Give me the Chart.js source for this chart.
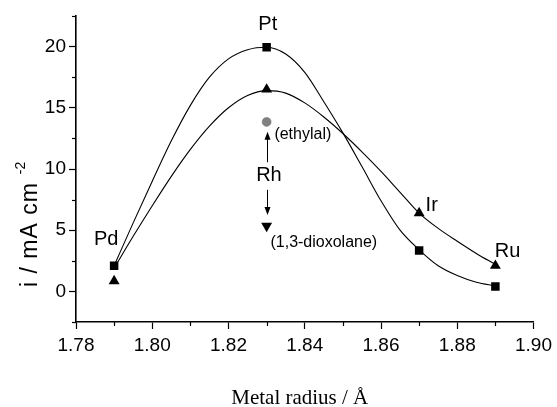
<!DOCTYPE html>
<html>
<head>
<meta charset="utf-8">
<script src="https://cdn.jsdelivr.net/npm/chart.js@4/dist/chart.umd.min.js"></script>
<style>
  html, body { margin: 0; padding: 0; background: #fff; }
  canvas { display: block; }
</style>
</head>
<body>
<canvas id="radiusChart" width="557" height="407"></canvas>
<script>
// metal radius (Å) for each metal
const metals = ['Pd', 'Pt', 'Ir', 'Ru'];
const radius = [1.79, 1.83, 1.87, 1.89];
// current density, mA cm-2
const squareCurrent = [2.1, 19.95, 3.35, 0.4];
const triangleCurrent = [0.85, 16.5, 6.4, 2.1];
// Rh at 1.83 Å, two different solvents
const rhRadius = 1.83;
const rhEthylal = 13.85;
const rhDioxolane = 5.35;

// fitted curves, read along the radius axis
const fitRadius = [1.790, 1.795, 1.800, 1.805, 1.810, 1.815, 1.820, 1.825, 1.830, 1.835, 1.840,
                   1.845, 1.850, 1.855, 1.860, 1.865, 1.870, 1.875, 1.880, 1.885, 1.890];
const squareFit = [2.1, 5.6, 9.0, 12.3, 15.2, 17.5, 19.0, 19.75, 19.95, 19.4, 17.9,
                   15.5, 12.95, 10.2, 7.4, 5.0, 3.4, 2.1, 1.3, 0.75, 0.45];
const triangleFit = [1.9, 4.5, 7.0, 9.4, 11.6, 13.5, 15.0, 16.0, 16.4, 16.2, 15.4,
                     14.25, 12.9, 11.4, 9.8, 8.1, 6.4, 5.15, 4.1, 3.1, 2.2];

const pts = (xs, ys) => xs.map((x, i) => ({ x: x, y: ys[i] }));

const SANS = '"Liberation Sans", Arial, sans-serif';
const SERIF = '"Liberation Serif", "Times New Roman", serif';

// text labels placed in data coordinates
const notes = [
  { text: 'Pt', x: 1.8303, y: 21.8, size: 20 },
  { text: 'Pd', x: 1.7879, y: 4.25, size: 20 },
  { text: 'Rh', x: 1.8306, y: 9.45, size: 20 },
  { text: 'Ir', x: 1.8733, y: 7.05, size: 20 },
  { text: 'Ru', x: 1.8932, y: 3.3, size: 20 },
  { text: '(ethylal)', x: 1.8395, y: 12.8, size: 16 },
  { text: '(1,3-dioxolane)', x: 1.845, y: 3.95, size: 16 }
];
const arrows = [
  { x: 1.83, from: 10.55, to: 13.05 },
  { x: 1.83, from: 8.3, to: 6.25 }
];

const isMajorX = v => Math.round(v * 100) % 2 === 0;
const isMajorY = v => Math.abs(v % 5) < 1e-6;

// minor ticks are drawn half length, majors come from the grid
const minorTicks = {
  id: 'minorTicks',
  afterDraw(chart) {
    const c = chart.ctx;
    const xs = chart.scales.x, ys = chart.scales.y;
    c.save();
    c.strokeStyle = '#000';
    c.lineWidth = 1.2;
    xs.ticks.forEach(t => {
      if (isMajorX(t.value)) return;
      const px = Math.round(xs.getPixelForValue(t.value)) + 0.5;
      c.beginPath();
      c.moveTo(px, ys.bottom);
      c.lineTo(px, ys.bottom + 4);
      c.stroke();
    });
    ys.ticks.forEach(t => {
      if (isMajorY(t.value)) return;
      const py = Math.round(ys.getPixelForValue(t.value)) + 0.5;
      c.beginPath();
      c.moveTo(xs.left, py);
      c.lineTo(xs.left - 4, py);
      c.stroke();
    });
    c.restore();
  }
};

// element labels, Rh arrows and both axis titles
const annotations = {
  id: 'annotations',
  afterDatasetsDraw(chart) {
    const c = chart.ctx;
    const xs = chart.scales.x, ys = chart.scales.y;
    c.save();
    c.fillStyle = '#000';
    c.textAlign = 'center';
    c.textBaseline = 'middle';
    notes.forEach(n => {
      c.font = n.size + 'px ' + SANS;
      c.fillText(n.text, xs.getPixelForValue(n.x), ys.getPixelForValue(n.y));
    });

    c.strokeStyle = '#000';
    c.lineWidth = 1;
    arrows.forEach(a => {
      const px = Math.round(xs.getPixelForValue(a.x)) + 0.5;
      const y0 = ys.getPixelForValue(a.from);
      const y1 = ys.getPixelForValue(a.to);
      const dir = y1 < y0 ? 1 : -1;
      c.beginPath();
      c.moveTo(px, y0);
      c.lineTo(px, y1 + dir * 6);
      c.stroke();
      c.beginPath();
      c.moveTo(px, y1);
      c.lineTo(px - 3, y1 + dir * 8);
      c.lineTo(px + 3, y1 + dir * 8);
      c.closePath();
      c.fill();
    });

    // x axis title
    c.font = '21px ' + SERIF;
    c.textBaseline = 'alphabetic';
    c.fillText('Metal radius / Å', (xs.left + xs.right) / 2 - 5, 404);

    // y axis title with superscript
    c.translate(37, 287);
    c.rotate(-Math.PI / 2);
    c.textAlign = 'left';
    c.font = '23px ' + SANS;
    c.letterSpacing = '1px';
    const main = 'i / mA cm';
    c.fillText(main, 0, 0);
    const w = c.measureText(main).width;
    c.font = '14px ' + SANS;
    c.letterSpacing = '0px';
    c.fillText('-2', w + 8, -12);
    c.restore();
  }
};

const tickFont = { family: SANS, size: 19 };

new Chart(document.getElementById('radiusChart'), {
  type: 'scatter',
  data: {
    datasets: [
      {
        label: 'square fit',
        data: pts(fitRadius, squareFit),
        showLine: true,
        borderColor: '#000',
        borderWidth: 1.1,
        pointRadius: 0,
        cubicInterpolationMode: 'monotone'
      },
      {
        label: 'triangle fit',
        data: pts(fitRadius, triangleFit),
        showLine: true,
        borderColor: '#000',
        borderWidth: 1.1,
        pointRadius: 0,
        cubicInterpolationMode: 'monotone'
      },
      {
        label: 'squares',
        data: pts(radius, squareCurrent),
        pointStyle: 'rect',
        pointRadius: 6,
        backgroundColor: '#000',
        borderColor: '#000',
        borderWidth: 0
      },
      {
        label: 'triangles',
        data: pts(radius, triangleCurrent),
        pointStyle: 'triangle',
        pointRadius: 6.3,
        backgroundColor: '#000',
        borderColor: '#000',
        borderWidth: 0
      },
      {
        label: 'Rh (ethylal)',
        data: [{ x: rhRadius, y: rhEthylal }],
        pointStyle: 'circle',
        pointRadius: 4.5,
        backgroundColor: '#808080',
        borderColor: '#6e6e6e',
        borderWidth: 0.5
      },
      {
        label: 'Rh (1,3-dioxolane)',
        data: [{ x: rhRadius, y: rhDioxolane }],
        pointStyle: 'triangle',
        rotation: 180,
        pointRadius: 6.3,
        backgroundColor: '#000',
        borderColor: '#000',
        borderWidth: 0
      }
    ]
  },
  options: {
    responsive: false,
    animation: false,
    layout: { padding: { top: 16, right: 23, left: 0, bottom: 0 } },
    plugins: {
      legend: { display: false },
      tooltip: { enabled: false }
    },
    scales: {
      x: {
        type: 'linear',
        min: 1.78,
        max: 1.90,
        afterFit: s => { s.height = 85; },
        ticks: {
          stepSize: 0.01,
          autoSkip: false,
          maxRotation: 0,
          padding: 5,
          color: '#000',
          font: tickFont,
          callback: v => isMajorX(v) ? v.toFixed(2) : ''
        },
        grid: {
          drawOnChartArea: false,
          tickLength: 7,
          tickWidth: 1.2,
          tickColor: ctx => isMajorX(ctx.tick.value) ? '#000' : 'rgba(0,0,0,0)'
        },
        border: { color: '#000', width: 1.6 }
      },
      y: {
        min: -2.5,
        max: 22.5,
        afterFit: s => { s.width = 76; },
        ticks: {
          stepSize: 2.5,
          autoSkip: false,
          padding: 3,
          color: '#000',
          font: tickFont,
          callback: v => isMajorY(v) && v >= 0 && v <= 20 ? String(v) : ''
        },
        grid: {
          drawOnChartArea: false,
          tickLength: 7,
          tickWidth: 1.2,
          tickColor: ctx => isMajorY(ctx.tick.value) ? '#000' : 'rgba(0,0,0,0)'
        },
        border: { color: '#000', width: 1.6 }
      }
    }
  },
  plugins: [minorTicks, annotations]
});
</script>
</body>
</html>
